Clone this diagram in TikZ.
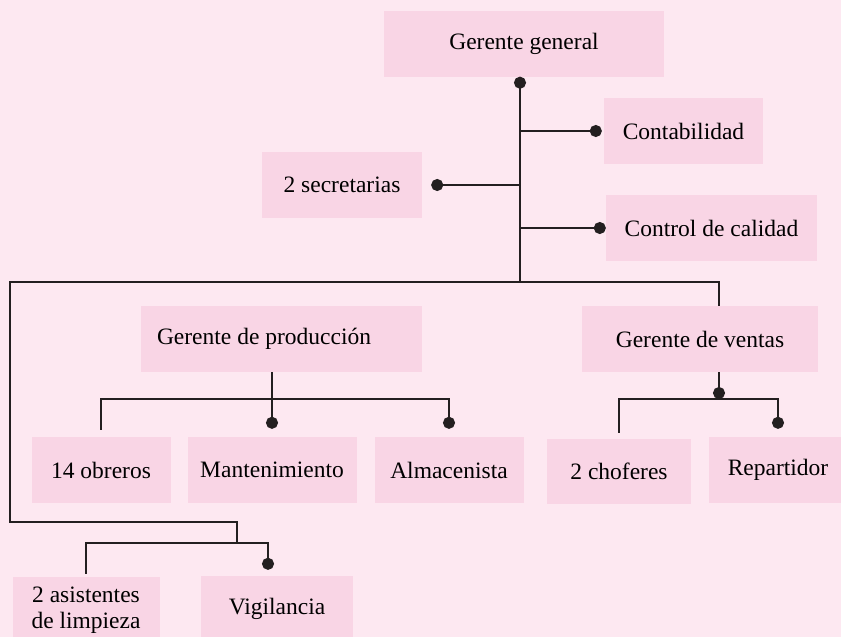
\documentclass[tikz,border=0pt]{standalone}
\usepackage{fontspec}
\setmainfont{Liberation Serif}
\newfontfamily\orgfont{Liberation Serif}
\usetikzlibrary{arrows.meta,positioning,calc}
\definecolor{orgBg}{HTML}{FDE8F1}
\definecolor{orgBox}{HTML}{F9D5E5}
\definecolor{orgInk}{HTML}{231F20}
\tikzset{
  % Boxes of the chart: flat fill, no frame.
  org/box/.style={
    fill=orgBox, draw=none, inner sep=0pt, align=center,
    font=\orgfont\fontsize{23.5}{26}\selectfont, minimum height=66pt, text=black
  },
  % Plain connector.
  org/line/.style={draw=orgInk, line width=2pt},
  % Connectors that end (or start) in a round dot.
  org/dotline/.style={org/line, -{Circle[length=12pt,width=12pt]}},
  org/dotfirst/.style={org/line, {Circle[length=12pt,width=12pt]}-},
}

\begin{document}
\begin{tikzpicture}[x=1pt,y=-1pt,
  b/.style={org/box},
  a/.style={org/dotline},
  l/.style={org/line}]
  \useasboundingbox (0,0) rectangle (841,637);
  \clip (0,0) rectangle (841,637);
  \fill[orgBg] (0,0) rectangle (841,637);
  % top
  \node[b, minimum width=280pt] (gg) at (524,43.5) {Gerente general};
  \node[b, minimum width=159pt] (conta) at (683.5,131) {Contabilidad};
  \node[b, minimum width=160pt] (secre) at (342,185) {2 secretarias};
  \node[b, minimum width=211pt] (calidad) at (711.5,228) {Control de calidad};
  % managers
  \node[b, text width=249pt, inner xsep=16pt, align=flush left] (gprod) at (281.5,339) {Gerente de producción};
  \node[b, minimum width=236pt] (gvent) at (700,339) {Gerente de ventas};
  % staff
  \node[b, minimum width=139pt] (obreros) at (101,470) {14 obreros};
  \node[b, minimum width=169pt] (mant) at (272,470) {Mantenimiento};
  \node[b, minimum width=149pt] (almac) at (449,470) {Almacenista};
  \node[b, minimum width=144pt, minimum height=65pt] (chof) at (619,471.5) {2 choferes};
  \node[b, minimum width=138pt] (repart) at (778,470) {Repartidor};
  \node[b, minimum width=147pt] (asist) at (86,610) {2 asistentes\\de limpieza};
  \node[b, minimum width=152pt] (vigil) at (277,609) {Vigilancia};
  \coordinate (trunk) at (520,282);
  \coordinate (ventJ) at (719,399);
  \coordinate (lft) at (10,522);
  \coordinate (limpJ) at (237,543);
  \draw[org/dotfirst] (trunk |- gg.south) -- (trunk);
  \draw[a] (trunk |- conta.west) -- ([xshift=-2pt]conta.west);
  \draw[a] (trunk |- secre.east) -- ([xshift=9pt]secre.east);
  \draw[a] (trunk |- calidad.west) -- (calidad.west);
  \draw[l] (gvent.north -| ventJ) |- (trunk) -- (trunk -| lft) -- (lft) -| (limpJ);
  \draw[a] (gprod.south -| mant) -- ([yshift=8pt]mant.north);
  \draw[a] ([yshift=7pt]obreros.north) -- ++(0,-31) -| ([yshift=8pt]almac.north);
  \draw[a] (gvent.south -| ventJ) -- (ventJ);
  \draw[a] ([yshift=6pt]chof.north) |- (ventJ) -| ([yshift=8pt]repart.north);
  \draw[a] ([yshift=3pt]asist.north) |- (limpJ) -| ([yshift=6pt,xshift=-9pt]vigil.north);
\end{tikzpicture}
\end{document}
